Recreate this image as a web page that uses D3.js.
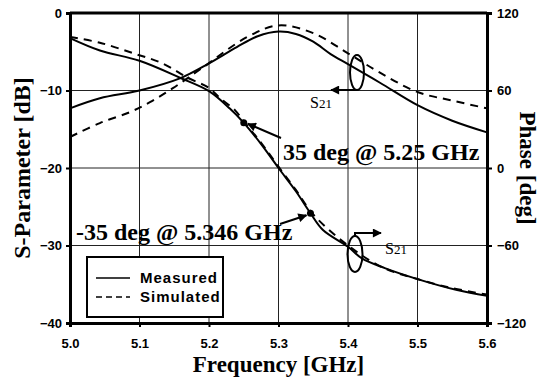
<!DOCTYPE html>
<html>
<head>
<meta charset="utf-8">
<script src="https://cdn.jsdelivr.net/npm/d3@7"></script>
<style>
  body { margin: 0; background: #fff; }
  svg { display: block; }
  .tick-label { font-family: "Liberation Sans", Arial, sans-serif; font-weight: bold; font-size: 13px; }
  .serif { font-family: "Liberation Serif", "Times New Roman", serif; font-weight: bold; }
</style>
</head>
<body>
<div id="chart"></div>
<script>
// frequency samples (GHz) and values
var magMeasFreq = [5.0, 5.043, 5.1, 5.159, 5.2, 5.24, 5.27, 5.3, 5.325, 5.35, 5.375, 5.4, 5.446, 5.5, 5.55, 5.6];
var magMeas = [-12.3, -11.0, -10.0, -8.4, -6.5, -4.4, -3.0, -2.4, -2.7, -3.7, -5.3, -6.6, -9.0, -11.9, -13.9, -15.4];

var magSimFreq = [5.0, 5.043, 5.086, 5.115, 5.148, 5.19, 5.255, 5.3, 5.35, 5.4, 5.446, 5.5, 5.55, 5.6];
var magSim = [-16.0, -14.2, -12.8, -11.5, -9.7, -7.1, -3.1, -1.6, -2.6, -5.2, -7.7, -10.2, -11.3, -12.3];

var phaseMeasFreq = [5.0, 5.043, 5.1, 5.159, 5.2, 5.23, 5.25, 5.275, 5.3, 5.325, 5.346, 5.364, 5.4, 5.42, 5.453, 5.5, 5.557, 5.6];
var phaseMeas = [100.6, 91, 83, 69.7, 59.5, 46, 35, 18.5, 0, -18, -35, -48, -61, -70, -77.5, -86, -94.5, -99];

var phaseSimFreq = [5.0, 5.043, 5.09, 5.133, 5.17, 5.2, 5.216, 5.237, 5.25, 5.275, 5.3, 5.325, 5.35, 5.4, 5.45, 5.5, 5.55, 5.6];
var phaseSim = [101.5, 97, 89, 81, 69.7, 62, 54, 45, 36, 19.5, 1, -17, -36, -60, -77, -86, -93, -98];

var freqTicks = [5.0, 5.1, 5.2, 5.3, 5.4, 5.5, 5.6];
var dbTicks = [0, -10, -20, -30, -40];
var phaseTicks = [120, 60, 0, -60, -120];

var markerFreq = [5.25, 5.346];
var markerPhase = [35, -35];

var width = 546;
var height = 380;
var margin = { top: 13, right: 59, bottom: 57, left: 70 };

var svg = d3
  .select("div#chart")
  .append("svg")
  .attr("width", width)
  .attr("height", height);

var x = d3.scaleLinear().domain([5.0, 5.6]).range([margin.left, width - margin.right]);
var yL = d3.scaleLinear().domain([-40, 0]).range([height - margin.bottom, margin.top]);
var yR = d3.scaleLinear().domain([-120, 120]).range([height - margin.bottom, margin.top]);

var defs = svg.append("defs");
defs.append("marker")
  .attr("id", "head")
  .attr("viewBox", "0 0 10 10")
  .attr("refX", 9)
  .attr("refY", 5)
  .attr("markerWidth", 11)
  .attr("markerHeight", 9)
  .attr("markerUnits", "userSpaceOnUse")
  .attr("orient", "auto")
  .append("path")
  .attr("d", "M0,0 L10,5 L0,10 Z")
  .attr("fill", "#000");

// gridlines
svg.append("g")
  .selectAll("line")
  .data(freqTicks.slice(1, -1))
  .enter()
  .append("line")
  .attr("x1", function (d) { return x(d); })
  .attr("x2", function (d) { return x(d); })
  .attr("y1", yL(0))
  .attr("y2", yL(-40))
  .attr("stroke", "#222")
  .attr("stroke-width", 1);

svg.append("g")
  .selectAll("line")
  .data(dbTicks.slice(1, -1))
  .enter()
  .append("line")
  .attr("x1", x(5.0))
  .attr("x2", x(5.6))
  .attr("y1", function (d) { return yL(d); })
  .attr("y2", function (d) { return yL(d); })
  .attr("stroke", "#222")
  .attr("stroke-width", 1);

// axes
var axisLeft = d3.axisLeft(yL).tickValues(dbTicks).tickSize(4).tickFormat(d3.format("d"));
var axisRight = d3.axisRight(yR).tickValues(phaseTicks).tickSize(5).tickFormat(d3.format("d"));
var axisBottom = d3.axisBottom(x).tickValues(freqTicks).tickSize(4).tickFormat(d3.format(".1f"));

function styleAxis(g) {
  g.select(".domain").attr("stroke", "#000").attr("stroke-width", 3);
  g.selectAll(".tick line").attr("stroke", "#000").attr("stroke-width", 2);
  g.selectAll(".tick text").attr("class", "tick-label").attr("fill", "#000");
}

svg.append("g")
  .attr("transform", "translate(" + margin.left + ",0)")
  .call(axisLeft)
  .call(styleAxis)
  .call(function (g) { g.selectAll(".tick text").attr("x", -8); });

svg.append("g")
  .attr("transform", "translate(" + (width - margin.right) + ",0)")
  .call(axisRight)
  .call(styleAxis)
  .call(function (g) { g.selectAll(".tick text").attr("x", 10); });

svg.append("g")
  .attr("transform", "translate(0," + (height - margin.bottom) + ")")
  .call(axisBottom)
  .call(styleAxis)
  .call(function (g) { g.selectAll(".tick text").attr("y", 16); });

// top border
svg.append("line")
  .attr("x1", x(5.0))
  .attr("x2", x(5.6))
  .attr("y1", yL(0))
  .attr("y2", yL(0))
  .attr("stroke", "#000")
  .attr("stroke-width", 3);

// curves
var zip = function (xs, ys) {
  return xs.map(function (f, i) { return [f, ys[i]]; });
};

var lineL = d3.line()
  .x(function (d) { return x(d[0]); })
  .y(function (d) { return yL(d[1]); })
  .curve(d3.curveCatmullRom.alpha(0.5));

var lineR = d3.line()
  .x(function (d) { return x(d[0]); })
  .y(function (d) { return yR(d[1]); })
  .curve(d3.curveCatmullRom.alpha(0.5));

var series = [
  { pts: zip(magSimFreq, magSim), line: lineL, dash: "8,6" },
  { pts: zip(phaseSimFreq, phaseSim), line: lineR, dash: "8,6" },
  { pts: zip(magMeasFreq, magMeas), line: lineL, dash: null },
  { pts: zip(phaseMeasFreq, phaseMeas), line: lineR, dash: null }
];

svg.append("g")
  .selectAll("path")
  .data(series)
  .enter()
  .append("path")
  .attr("d", function (d) { return d.line(d.pts); })
  .attr("fill", "none")
  .attr("stroke", "#000")
  .attr("stroke-width", 2)
  .attr("stroke-dasharray", function (d) { return d.dash; });

// phase markers
svg.append("g")
  .selectAll("circle")
  .data(zip(markerFreq, markerPhase))
  .enter()
  .append("circle")
  .attr("cx", function (d) { return x(d[0]); })
  .attr("cy", function (d) { return yR(d[1]); })
  .attr("r", 3.5)
  .attr("fill", "#000");

// annotation arrows
var arrow = function (pathStr) {
  svg.append("path")
    .attr("d", pathStr)
    .attr("fill", "none")
    .attr("stroke", "#000")
    .attr("stroke-width", 2)
    .attr("marker-end", "url(#head)");
};
arrow("M281,138 L" + (x(5.25) + 4) + "," + (yR(35) + 1));
arrow("M280,224 L" + (x(5.346) - 4) + "," + (yR(-35) + 2));
arrow("M357,90 L331,90");
arrow("M355,237 L355,233 L381,233");

// ellipses around S21 curves
svg.append("ellipse")
  .attr("cx", 357).attr("cy", 72.5).attr("rx", 7).attr("ry", 17.5)
  .attr("fill", "none").attr("stroke", "#000").attr("stroke-width", 2);
svg.append("ellipse")
  .attr("cx", 355).attr("cy", 254).attr("rx", 7.5).attr("ry", 18)
  .attr("fill", "none").attr("stroke", "#000").attr("stroke-width", 2);

// S21 labels
var s21 = function (xp, yp) {
  var t = svg.append("text")
    .attr("x", xp)
    .attr("y", yp)
    .style("font-family", "'Liberation Serif', 'Times New Roman', serif")
    .style("font-size", "16px");
  t.append("tspan").text("S");
  t.append("tspan").style("font-size", "13px").text("21");
};
s21(310, 108);
s21(385, 254);

// annotation texts
svg.append("text")
  .attr("class", "serif")
  .attr("x", 283)
  .attr("y", 160)
  .style("font-size", "24px")
  .text("35 deg @ 5.25 GHz");

svg.append("text")
  .attr("class", "serif")
  .attr("x", 76)
  .attr("y", 240)
  .style("font-size", "24px")
  .text("-35 deg @ 5.346 GHz");

// legend
var legend = svg.append("g");
legend.append("rect")
  .attr("x", 87).attr("y", 257).attr("width", 136).attr("height", 60)
  .attr("fill", "#fff").attr("stroke", "#000").attr("stroke-width", 2);

var legendItems = [
  { label: "Measured", dash: null, y: 278 },
  { label: "Simulated", dash: "6,4", y: 297 }
];
legend.selectAll("line")
  .data(legendItems)
  .enter()
  .append("line")
  .attr("x1", 96).attr("x2", 130)
  .attr("y1", function (d) { return d.y; })
  .attr("y2", function (d) { return d.y; })
  .attr("stroke", "#000")
  .attr("stroke-width", 1.5)
  .attr("stroke-dasharray", function (d) { return d.dash; });
legend.selectAll("text")
  .data(legendItems)
  .enter()
  .append("text")
  .attr("x", 140)
  .attr("y", function (d) { return d.y + 5; })
  .style("font-family", "'Liberation Sans', Arial, sans-serif")
  .style("font-weight", "bold")
  .style("font-size", "15px")
  .style("letter-spacing", "1px")
  .text(function (d) { return d.label; });

// axis titles
svg.append("text")
  .attr("class", "serif")
  .attr("transform", "translate(30," + yL(-20) + ") rotate(-90)")
  .attr("text-anchor", "middle")
  .style("font-size", "24px")
  .text("S-Parameter [dB]");

svg.append("text")
  .attr("class", "serif")
  .attr("transform", "translate(520," + yR(0) + ") rotate(90)")
  .attr("text-anchor", "middle")
  .style("font-size", "23px")
  .text("Phase [deg]");

svg.append("text")
  .attr("class", "serif")
  .attr("x", (x(5.0) + x(5.6)) / 2)
  .attr("y", 372)
  .attr("text-anchor", "middle")
  .style("font-size", "23px")
  .text("Frequency [GHz]");
</script>
</body>
</html>
